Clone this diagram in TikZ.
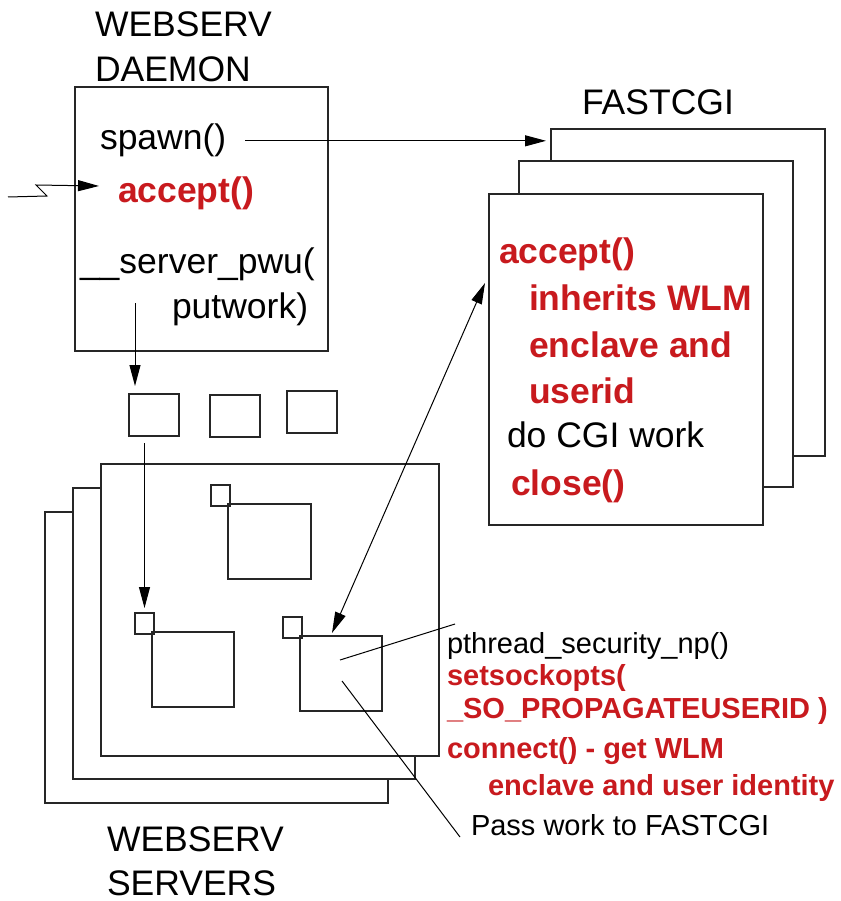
\documentclass[tikz,border=0pt]{standalone}
\usepackage{fontspec}
\setmainfont{Liberation Sans}
\usetikzlibrary{arrows.meta,calc}
\definecolor{callred}{RGB}{200,26,30}
\tikzset{
  box/.style={draw=black!85, line width=1.1pt, fill=white, inner sep=0pt, outer sep=0pt},
  slot/.style={draw=black!85, line width=1.1pt, inner sep=0pt, outer sep=0pt},
  wire/.style={draw=black, line width=1pt},
  arr/.style={wire, -{Triangle[length=21pt,width=11pt]}},
  dblarr/.style={wire, {Triangle[length=21pt,width=11pt]}-{Triangle[length=21pt,width=11pt]}},
  lbl/.style={anchor=base west, inner sep=0pt, outer sep=0pt, font=\fontsize{35.5}{40}\selectfont},
  call/.style={lbl, text=callred, font=\fontsize{35.5}{40}\selectfont\bfseries},
  note/.style={anchor=base west, inner sep=0pt, outer sep=0pt, font=\fontsize{29}{33}\selectfont},
  rednote/.style={note, text=callred, font=\fontsize{29}{33}\selectfont\bfseries},
}
\begin{document}
\begin{tikzpicture}[x=1pt, y=-1pt]
\useasboundingbox (0,0) rectangle (840,901);

% ---- daemon ----
\node[box, minimum width=253pt, minimum height=264pt] (daemon) at (201.5,219) {};
\node[lbl] (dtitle1) at (95,37) {WEBSERV};
\node[lbl] (dtitle2) at (95,82) {DAEMON};
\node[lbl] (spawn) at (100,150) {spawn()};
\node[call] (dacc) at (118,203) {accept()};
\node[lbl] (pwu) at (80,273) {\_\_server\_pwu(};
\node[lbl] (putw) at (172,318) {putwork)};

% ---- work queue ----
\node[box, minimum width=50pt, minimum height=42pt] (q1) at (154,415) {};
\node[box, minimum width=50pt, minimum height=42pt] (q2) at (235,416) {};
\node[box, minimum width=50pt, minimum height=42pt] (q3) at (312,412) {};

% ---- FASTCGI stack ----
\node[lbl] (ftitle) at (582,115) {FASTCGI};
\node[box, minimum width=274pt, minimum height=327pt] (fc3) at (688,292.5) {};
\node[box, minimum width=274pt, minimum height=326pt] (fc2) at (656,324) {};
\node[box, minimum width=274pt, minimum height=331pt] (fc1) at (626,359.5) {};
\node[call] (facc) at (499,263) {accept()};
\node[call] (finh) at (529,310) {inherits WLM};
\node[call] (fenc) at (529,357) {enclave and};
\node[call] (fuid) at (529,403) {userid};
\node[lbl] (fcgi) at (507,447) {do CGI work};
\node[call] (fclose) at (511,495) {close()};

% ---- server stack ----
\node[box, minimum width=343pt, minimum height=291pt] (srv3) at (216.5,657.5) {};
\node[box, minimum width=342pt, minimum height=291pt] (srv2) at (244,633.5) {};
\node[box, minimum width=338pt, minimum height=292pt] (srv1) at (270,610) {};
\node[lbl] (stitle1) at (107,851) {WEBSERV};
\node[lbl] (stitle2) at (107,895) {SERVERS};

% threads inside the front server
\node[slot, minimum width=83pt, minimum height=75pt] (tbig) at (269.5,541.5) {};
\node[slot, minimum width=19pt, minimum height=21pt] (tsmall) at (220.5,495.5) {};
\node[slot, minimum width=82pt, minimum height=75pt] (lbig) at (193,669.5) {};
\node[slot, minimum width=19pt, minimum height=21pt] (lsmall) at (144.5,623.5) {};
\node[slot, minimum width=82pt, minimum height=75pt] (rbig) at (341,673.5) {};
\node[slot, minimum width=19pt, minimum height=21pt] (rsmall) at (292.5,627.5) {};

% ---- notes ----
\node[note] (n1) at (447,653) {pthread\_security\_np()};
\node[rednote] (n2) at (447,685) {setsockopts(};
\node[rednote] (n3) at (447,718) {\_SO\_PROPAGATEUSERID )};
\node[rednote] (n4) at (447,758) {connect() - get WLM};
\node[rednote] (n5) at (488,795) {enclave and user identity};
\node[note] (n6) at (471,835) {Pass work to FASTCGI};

% ---- connectors ----
\coordinate (net) at (8,197);
\draw[arr] (net) -- (47,196) -- (36,185) -- ([shift={(24,99)}]daemon.north west);

\draw[arr, shorten <=19pt, shorten >=5pt] (spawn.east) -- (spawn.east -| fc3.west);

\coordinate (putsrc) at (135,303);
\draw[arr, shorten >=8pt] (putsrc) -- (putsrc |- q1.north);

\draw[arr, shorten <=7pt, shorten >=5pt] (q1.south -| lsmall.north) -- (lsmall.north);

\draw[dblarr] ([shift={(32,-3)}]rbig.north west) -- ([shift={(-4,89)}]fc1.north west);

\coordinate (n1end) at (455,624);
\coordinate (n6end) at (460,837);
\draw[wire] ([shift={(40,24)}]rbig.north west) -- (n1end);
\draw[wire] ([shift={(42,45)}]rbig.north west) -- (n6end);
\end{tikzpicture}
\end{document}
